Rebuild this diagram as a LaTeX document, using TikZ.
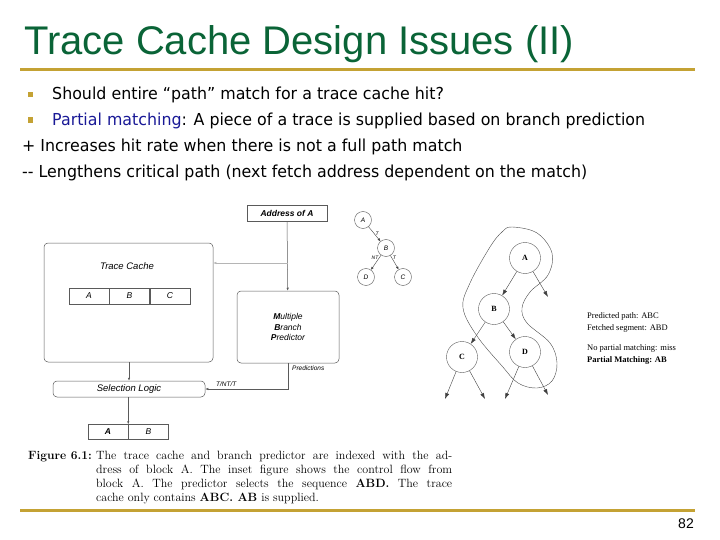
\documentclass[tikz,border=0pt]{standalone}
\usepackage{xcolor}
\usepackage{fontspec}
\newfontfamily\titlefont{Liberation Sans}
\newfontfamily\bodyfont[FakeStretch=0.96]{DejaVu Sans}
\newfontfamily\figfont{Liberation Sans}
\newfontfamily\treefont{Liberation Serif}
\usepackage{tikz}
\usetikzlibrary{positioning, arrows.meta, calc}

\definecolor{titlegreen}{RGB}{10,100,55}
\definecolor{rulegold}{RGB}{196,162,52}
\definecolor{linkblue}{RGB}{25,25,150}
\definecolor{figgray}{RGB}{90,90,90}

\tikzset{
    body/.style={anchor=base west, inner sep=0pt, font=\bodyfont\fontsize{16.5}{19}\selectfont},
    bullet/.style={fill=rulegold, minimum size=5.5pt, inner sep=0pt},
    blk/.style={draw=figgray, line width=0.5pt, inner sep=0pt, font=\figfont\itshape\fontsize{8.5}{10.5}\selectfont},
    lbl/.style={inner sep=0pt, font=\figfont\itshape\fontsize{9.5}{11}\selectfont},
    tiny/.style={inner sep=0pt, font=\figfont\itshape\fontsize{6.5}{7}\selectfont},
    gline/.style={draw=figgray, line width=0.5pt, -{Latex[length=3pt,width=2.4pt]}},
    scirc/.style={draw=figgray, circle, minimum size=17pt, inner sep=0pt, font=\figfont\itshape\fontsize{6.5}{7}\selectfont},
    bcirc/.style={draw=figgray, circle, minimum size=31pt, inner sep=0pt, font=\treefont\bfseries\fontsize{8}{9}\selectfont},
    tarr/.style={draw=black!75, line width=0.4pt, -{Latex[length=6pt,width=4pt]}},
    sarr/.style={draw=black!75, line width=0.4pt, -{Latex[length=3pt,width=2.5pt]}},
    side/.style={anchor=base west, inner sep=0pt, font=\treefont\fontsize{8.5}{9}\selectfont},
}

\begin{document}
\begin{tikzpicture}[x=1pt, y=-1pt]
    \useasboundingbox (0,0) rectangle (720,540);

    % Titre et filets
    \node[anchor=base west, inner sep=0pt, text=titlegreen, font=\titlefont\fontsize{40}{44}\selectfont] (title) at (24,55) {Trace Cache Design Issues (II)};
    \draw[rulegold, line width=3pt] (20,70) -- (695,70);
    \draw[rulegold, line width=3pt] (20,510) -- (695,510);
    \node[anchor=base east, inner sep=0pt, font=\titlefont\fontsize{14}{16}\selectfont] (page) at (694,528) {82};

    % Texte
    \node[bullet] (b1) at (30.5,94.5) {};
    \node[bullet] (b2) at (30.5,120) {};
    \node[body] (l1) at (52,100) {Should entire “path” match for a trace cache hit?};
    \node[body] (l2) at (52,126) {\textcolor{linkblue}{Partial matching}: A piece of a trace is supplied based on branch prediction};
    \node[body] (l3) at (22,152) {+ Increases hit rate when there is not a full path match};
    \node[body] (l4) at (22,178) {-{}- Lengthens critical path (next fetch address dependent on the match)};

    % Schema bloc
    \node[blk, minimum width=80pt, minimum height=16pt] (addr) at (287,213) {\bfseries Address of A};
    \node[blk, rounded corners=4pt, minimum width=169pt, minimum height=119pt] (tc) at (128.5,302.5) {};
    \node[lbl] (tclbl) at (127,266) {Trace Cache};
    \node[blk, minimum width=40pt, minimum height=16pt] (cA) at (89,296) {A};
    \node[blk, minimum width=40pt, minimum height=16pt, right=0pt of cA] (cB) {B};
    \node[blk, minimum width=40pt, minimum height=16pt, right=0pt of cB] (cC) {C};
    \node[blk, rounded corners=4pt, minimum width=102pt, minimum height=72pt, align=center] (pred) at (288,327)
        {\textbf{M}ultiple\\\textbf{B}ranch\\\textbf{P}redictor};
    \node[blk, rounded corners=4pt, minimum width=152pt, minimum height=16pt, font=\figfont\itshape\fontsize{9.5}{11}\selectfont] (sel) at (129,389) {Selection Logic};
    \node[blk, minimum width=40pt, minimum height=15pt] (oA) at (108,432) {\bfseries A};
    \node[blk, minimum width=40pt, minimum height=15pt, right=0pt of oA] (oB) {B};

    \coordinate (split) at (288,263);
    \draw[gline] (addr) -- (pred);
    \draw[gline, draw=figgray!45] (split) -- (split -| tc.east);
    \draw[gline] (tc.south -| sel.north) -- (sel.north);
    \draw[gline] (pred.south) |- (sel.east);
    \draw[gline] (sel.south -| oA.north east) -- (oA.north east);
    \node[tiny, anchor=west] (predlbl) at (292,368) {Predictions};
    \node[tiny, anchor=west] (tnt) at (216,384) {T/NT/T};

    % Petit arbre
    \node[scirc] (sA) at (363,220) {A};
    \node[scirc] (sB) at (386,248) {B};
    \node[scirc] (sD) at (366,277) {D};
    \node[scirc] (sC) at (403,277) {C};
    \draw[sarr] (sA) -- (sB) node[tiny, midway, right=1pt, font=\figfont\itshape\fontsize{5}{6}\selectfont] {T};
    \draw[sarr] (sB) -- (sD) node[tiny, pos=0.15, left=1pt, font=\figfont\itshape\fontsize{5}{6}\selectfont] {NT};
    \draw[sarr] (sB) -- (sC) node[tiny, pos=0.15, right=1pt, font=\figfont\itshape\fontsize{5}{6}\selectfont] {T};

    % Grand arbre
    \node[bcirc] (bA) at (525,258) {A};
    \node[bcirc] (bB) at (494,309) {B};
    \node[bcirc] (bC) at (462,357) {C};
    \node[bcirc] (bD) at (525,352) {D};
    \coordinate (aout) at (548,297);
    \coordinate (c1) at (445,399);
    \coordinate (c2) at (485,399);
    \coordinate (d1) at (505,399);
    \coordinate (d2) at (548,395);
    \draw[tarr] (bA) -- (bB);
    \draw[tarr] (bA) -- (aout);
    \draw[tarr] (bB) -- (bC);
    \draw[tarr] (bB) -- (bD);
    \draw[tarr] (bC) -- (c1);
    \draw[tarr] (bC) -- (c2);
    \draw[tarr] (bD) -- (d1);
    \draw[tarr] (bD) -- (d2);
    \draw[draw=black!70, line width=0.4pt] plot[smooth cycle, tension=0.6] coordinates {
        (512,227) (537,233) (552,253) (548,275) (530,292) (522,308) (527,323)
        (550,343) (557,363) (552,381) (537,388) (518,383) (502,366) (477,336)
        (463,308) (470,283) (490,247) (502,232)};

    \node[side] (s1) at (587,318) {Predicted path: ABC};
    \node[side] (s2) at (587,330) {Fetched segment: ABD};
    \node[side] (s3) at (587,350) {No partial matching: miss};
    \node[side] (s4) at (587,362) {\bfseries Partial Matching: AB};

    % Legende
    \node[anchor=base east, inner sep=0pt, font=\bfseries\fontsize{12}{14}\selectfont] (figno) at (92,459) {Figure 6.1:};
    \node[anchor=base west, inner sep=0pt, text width=356pt, align=justify, font=\fontsize{12}{14}\selectfont] (cap) at (96,459)
        {The trace cache and branch predictor are indexed with the ad-\linebreak
         dress of block A. The inset figure shows the control flow from\linebreak
         block A. The predictor selects the sequence \textbf{ABD.} The trace\linebreak
         cache only contains \textbf{ABC. AB} is supplied.};
\end{tikzpicture}
\end{document}
